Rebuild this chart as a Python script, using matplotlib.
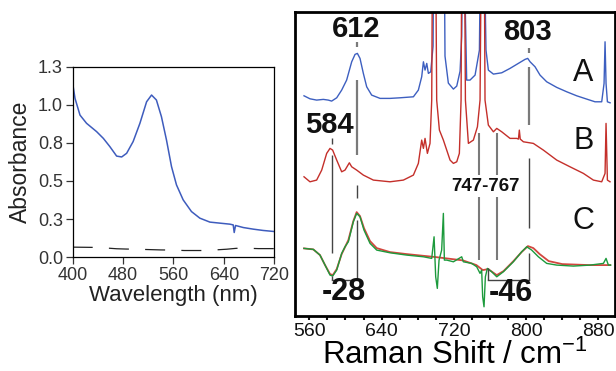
import matplotlib
matplotlib.use("Agg")
import matplotlib.pyplot as plt

plt.rcParams['font.family'] = ['Liberation Sans', 'DejaVu Sans']
plt.rcParams['mathtext.fontset'] = 'custom'
plt.rcParams['mathtext.rm'] = 'Liberation Sans'

# ---- left panel: absorbance ----
wl_blue = [400, 403.7, 411.6, 422, 438, 448.7, 459, 469.8, 477.8, 485.7, 496, 506.8,
           517.4, 525.3, 533, 541, 549, 557, 564.9, 575.5, 588.7, 602, 618, 633.8,
           649.7, 655, 656.6, 658.7, 671, 686.8, 702.6, 719.6]
abs_blue = [1.186, 1.084, 0.970, 0.914, 0.857, 0.811, 0.755, 0.690, 0.684, 0.709, 0.789, 0.914,
            1.061, 1.107, 1.073, 0.959, 0.800, 0.618, 0.493, 0.391, 0.311, 0.266, 0.239, 0.232,
            0.225, 0.220, 0.168, 0.216, 0.202, 0.191, 0.182, 0.175]
wl_ref = [400, 420, 440, 470, 485, 500, 540, 560, 577, 610, 630, 645, 660, 680, 695, 720]
abs_ref = [0.068, 0.067, 0.066, 0.057, 0.055, 0.054, 0.049, 0.048, 0.045, 0.045, 0.050, 0.054,
           0.060, 0.060, 0.058, 0.058]

# ---- right panel: Raman spectra (arbitrary intensity, stacked) ----
shift_A = [554.1, 560.7, 568.1, 575.5, 581, 584.7, 590.3, 595.8, 601.3, 606.9, 610.6, 613.2,
           616.1, 619.8, 623.5, 629, 638.3, 649.3, 660.4, 675.2, 680.7, 684.4, 686.3, 688.1,
           690, 691.8, 694.4, 697, 698, 709, 710.2, 713.9, 719.5, 723.2, 726.9, 728.7, 730.2,
           734.2, 737.9, 743.5, 748.3, 750.1, 752.7, 755.6, 758.2, 763.8, 773, 782.2, 791.4,
           798.8, 801.8, 804.4, 809.9, 815.4, 822.8, 833.9, 845, 856, 867.1, 876.3, 883.7,
           886.3, 887.4, 888.5, 890, 893]
int_A = [220.3, 217.3, 216, 216.7, 216, 215, 218.3, 226, 236, 254.3, 261.7, 262.7,
         257.7, 242.7, 229.3, 221, 217.7, 217.7, 218.3, 219.3, 226, 239.3, 254.3, 246,
         252.7, 242.7, 244.3, 270, 420, 420, 260, 233, 227, 230, 245, 280, 420,
         236, 236, 241, 266, 420, 420, 266, 246, 242, 243.3, 247.7, 252.7,
         256.7, 257.7, 254.3, 249.3, 241, 234.3, 228.7, 224.3, 220.3, 217, 214.3, 214.3,
         232.7, 274.3, 232.7, 214.3, 213.3]

shift_B = [554.1, 560.7, 568.1, 573.7, 579.2, 582.9, 585.8, 590.3, 595.8, 599.5, 604.3, 606.9,
           612.4, 619.8, 630.9, 649.3, 664.1, 675.2, 680.7, 684.4, 686.3, 688.1, 690.7, 693.6,
           695.5, 696.6, 699.5, 701, 704, 708.4, 712.1, 715.8, 719.5, 723.2, 726.1, 728,
           729, 731.5, 732.8, 736.1, 741.6, 746.1, 749, 750.8, 753.4, 754.5, 758.2, 763.8,
           767.5, 773, 782.2, 789.6, 791.5, 792.5, 793.5, 797, 808, 819.1, 833.9, 848.6,
           863.4, 874.5, 883.7, 887.4, 888.5, 890, 892.9]
int_B = [139.3, 134.3, 136, 146, 162.7, 167.7, 166, 156, 144.3, 146, 153.3, 149.3,
         146, 141, 136, 134.3, 136, 141, 152.7, 176, 167.7, 177.7, 162.7, 172.7,
         216, 420, 420, 216, 186, 176, 166, 156, 152.7, 154.3, 162.7, 216,
         420, 420, 216, 172.7, 176, 189.3, 216, 420, 420, 216, 191, 184.3,
         187.7, 184.3, 177.7, 177.7, 177, 186, 177, 174.3, 172.7, 166, 156, 149.3,
         142.7, 136, 134.3, 142.7, 192.7, 136, 134.3]

shift_C_obs = [554.1, 564.4, 571.8, 577.4, 582.9, 585.8, 590.3, 595.8, 599.5, 603.2, 608.7, 612.4,
               616.1, 620.5, 627.2, 634.6, 649.3, 667.8, 686.3, 695.5, 698.1, 699.9, 701.7, 703.6,
               706.5, 708.4, 709.5, 712.1, 719.5, 728.7, 730.5, 739.8, 745.3, 749, 750.8, 751.9,
               753.4, 754.9, 757.1, 761.9, 767.5, 774.8, 785.9, 795.1, 800.7, 806.2, 813.6, 822.8,
               833.9, 852.3, 870.8, 885.6, 888.5, 891.1, 893.7]
int_C_obs = [67.7, 66.7, 61, 51, 41, 40, 46, 62.7, 69.3, 74.3, 94.3, 102.7,
             99.3, 86, 72.7, 66, 63.3, 61, 59.3, 57.7, 79.3, 39.3, 27.7, 56,
             66, 102.7, 56, 56, 54.3, 59.3, 54.3, 52.7, 49.3, 42.7, 46, 19.3,
             9.3, 39.3, 47.7, 44.3, 39.3, 44.3, 54.3, 64.3, 69.3, 66, 59.3, 52.7,
             51, 50, 51, 52.7, 57.7, 51, 51]
shift_C_fit = [554.1, 564.4, 571.8, 577.4, 582.9, 586, 590.3, 595.8, 603.2, 608.7, 612.4, 616.1,
               620.5, 627.2, 634.6, 649.3, 667.8, 700, 730, 745, 752, 758, 767.5, 775,
               786, 795, 802, 808, 815, 825, 840, 870, 893]
int_C_fit = [67.7, 66.7, 61, 51, 42, 41, 47, 62, 76, 95, 104, 100,
             88, 75, 68, 64, 62, 59, 55.7, 51, 46, 47, 41, 45,
             55, 64, 70, 68, 62, 55, 52, 51, 51]

fig = plt.figure(figsize=(6.16, 3.71), dpi=100)

# left panel
ax1 = fig.add_axes([0.118, 0.307, 0.327, 0.513])
ax1.plot(wl_blue, abs_blue, color='#3e5cbd', lw=1.1)
ref, = ax1.plot(wl_ref, abs_ref, color='#222222', lw=0.9)
ref.set_dashes((16, 13))
ax1.set_xlim(400, 720)
ax1.set_ylim(0, 1.3)
ax1.set_xticks([400, 480, 560, 640, 720])
yt = [0, 0.26, 0.52, 0.78, 1.04, 1.3]
ax1.set_yticks(yt)
ax1.set_yticklabels(['%.1f' % v for v in yt])
ax1.tick_params(direction='out', length=5, width=0.9, labelsize=13, colors='#333333', pad=2)
for s in ax1.spines.values():
    s.set_linewidth(0.9)
ax1.set_xlabel('Wavelength (nm)', fontsize=16, color='#222222', labelpad=1)
ax1.set_ylabel('Absorbance', fontsize=16.5, color='#222222', labelpad=4)

# right panel
ax2 = fig.add_axes([0.479, 0.148, 0.5195, 0.8194])
ax2.plot(shift_A, int_A, color='#3d5fc0', lw=1.0)
ax2.plot(shift_B, int_B, color='#c42f2a', lw=1.0)
ax2.plot(shift_C_fit, int_C_fit, color='#d2473f', lw=1.3)
ax2.plot(shift_C_obs, int_C_obs, color='#1c9a3c', lw=1.0)
ax2.set_xlim(544.2, 898.5)
ax2.set_ylim(0, 304)
ax2.set_yticks([])
ax2.set_xticks([560, 640, 720, 800, 880])
ax2.set_xticks(range(560, 900, 20), minor=True)
ax2.tick_params(axis='x', which='both', direction='out', length=3, width=1.5,
                labelsize=14, pad=2, colors='#111111')
for s in ax2.spines.values():
    s.set_linewidth(2.0)
ax2.set_xlabel('Raman Shift / cm$^{\\mathregular{-1}}$', fontsize=22.5, labelpad=0)

gray = '#7a7a7a'
dark = '#444444'
# marker lines: (x, y0, y1, colour, width)
segs = [
    (612.5, 269, 274, gray, 1.6), (612.5, 161, 236, gray, 1.6), (612.5, 118, 131, dark, 1.0),
    (612.5, 36, 96, dark, 1.0),
    (803.3, 263, 268, gray, 1.6), (803.3, 191, 249, gray, 1.6), (803.3, 88, 158, dark, 1.0),
    (803.3, 36, 63, dark, 1.0),
    (584.8, 172, 178, dark, 1.0), (584.8, 63, 161, dark, 1.0), (584.8, 36, 40, dark, 1.0),
    (747.9, 141, 183, gray, 1.5), (747.9, 56, 119, gray, 1.5),
    (767.5, 141, 183, gray, 1.5), (767.5, 56, 119, gray, 1.5),
    (758.3, 36, 48, dark, 1.0),
]
for x, y0, y1, c, w in segs:
    ax2.plot([x, x], [y0, y1], color=c, lw=w, solid_capstyle='butt')
ax2.plot([584.8, 612.5], [36, 36], color=dark, lw=1.0)
ax2.plot([758.3, 803.3], [36, 36], color=dark, lw=1.0)

bold = dict(fontweight='bold', ha='center', va='center', color='#111111')
ax2.text(611.4, 287, '612', fontsize=21, **bold)
ax2.text(801.4, 284, '803', fontsize=21, **bold)
ax2.text(582.0, 191, '584', fontsize=21, **bold)
ax2.text(754.6, 130, '747-767', fontsize=13.5, **bold)
ax2.text(597.7, 24, '-28', fontsize=22, **bold)
ax2.text(783.2, 23, '-46', fontsize=22, **bold)
for lab, y in [('A', 243.5), ('B', 175), ('C', 95)]:
    ax2.text(863.5, y, lab, fontsize=22, ha='center', va='center', color='#111111')

fig.savefig('out.png', dpi=100)
